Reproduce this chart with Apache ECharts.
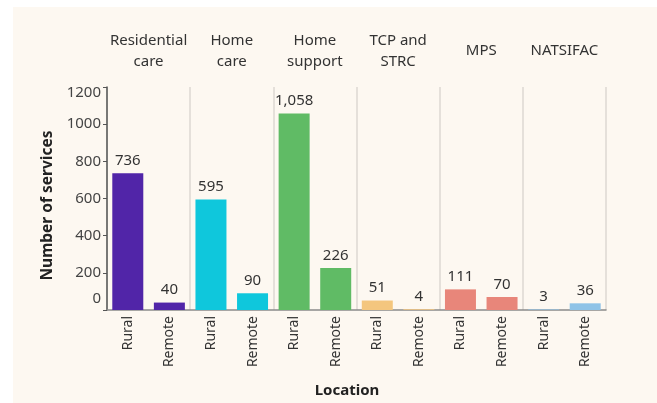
<!DOCTYPE html>
<html>
<head>
<meta charset="utf-8">
<script src="https://cdn.jsdelivr.net/npm/echarts@6/dist/echarts.min.js"></script>
<style>
  html, body { margin: 0; padding: 0; background: #ffffff; }
  #chart { position: absolute; left: 13px; top: 7px; width: 644px; height: 396px; background: #fdf8f1; }
</style>
</head>
<body>
<div id="chart"></div>
<script>
// service types across the top, two locations under each
var groups = ['Residential\ncare', 'Home\ncare', 'Home\nsupport', 'TCP and\nSTRC', 'MPS', 'NATSIFAC'];
var locations = ['Rural', 'Remote'];
var groupColors = ['#5125a8', '#0fc7dc', '#60bb65', '#f4c67e', '#e8867a', '#8fc3e7'];
var services = [736, 40, 595, 90, 1058, 226, 51, 4, 111, 70, 3, 36];
var yTicks = [0, 200, 400, 600, 800, 1000, 1200];

var font = 'Noto Sans';

// one category per group/location pair, name after '|' is what shows
var cats = [];
groups.forEach(function (g, gi) {
  locations.forEach(function (loc) {
    cats.push(gi + '|' + loc);
  });
});

var barData = services.map(function (v, i) {
  return {
    value: v,
    itemStyle: { color: groupColors[Math.floor(i / locations.length)] }
  };
});

var chart = echarts.init(document.getElementById('chart'));

chart.setOption({
  animation: false,
  textStyle: { fontFamily: font },
  grid: { left: 94, right: 51, top: 80, bottom: 91, containLabel: false },
  xAxis: [
    {
      type: 'category',
      data: cats,
      position: 'bottom',
      axisLine: { show: true, lineStyle: { color: '#8a8a8a', width: 1.5 } },
      axisTick: { show: false },
      axisLabel: {
        interval: 0,
        rotate: 90,
        margin: 6,
        fontSize: 14,
        color: '#333',
        fontFamily: font,
        formatter: function (v) { return v.split('|')[1]; }
      },
      name: 'Location',
      nameLocation: 'middle',
      nameGap: 73,
      nameTextStyle: { fontSize: 15, fontWeight: 'bold', color: '#222', fontFamily: font, padding: [0, 19, 0, 0] }
    },
    {
      type: 'category',
      data: groups,
      position: 'top',
      axisLine: { show: false },
      axisTick: { show: false },
      splitLine: { show: true, interval: 0, lineStyle: { color: '#dcd8d2', width: 1.5 } },
      axisLabel: {
        interval: 0,
        margin: 36,
        verticalAlign: 'middle',
        fontSize: 15,
        lineHeight: 21,
        color: '#333',
        fontFamily: font
      }
    }
  ],
  yAxis: {
    type: 'value',
    min: yTicks[0],
    max: yTicks[yTicks.length - 1],
    interval: 200,
    axisLine: { show: true, lineStyle: { color: '#555', width: 1.5 } },
    axisTick: { show: true, length: 4, lineStyle: { color: '#555' } },
    splitLine: { show: false },
    axisLabel: {
      margin: 6,
      fontSize: 15,
      color: '#444',
      fontFamily: font,
      formatter: function (v) {
        if (v === yTicks[0]) return '{lo|' + v + '}';
        if (v === yTicks[yTicks.length - 1]) return '{hi|' + v + '}';
        return String(v);
      },
      rich: {
        lo: { fontSize: 15, color: '#444', fontFamily: font, padding: [0, 0, 22, 0] },
        hi: { fontSize: 15, color: '#444', fontFamily: font, padding: [12, 0, 0, 0] }
      }
    },
    name: 'Number of services',
    nameLocation: 'middle',
    nameGap: 51,
    nameTextStyle: { fontSize: 15.5, fontWeight: 'bold', color: '#222', fontFamily: font, padding: [0, 14, 0, 0] }
  },
  series: [
    {
      type: 'bar',
      xAxisIndex: 0,
      data: barData,
      barWidth: 31,
      label: {
        show: true,
        position: 'top',
        distance: 5,
        fontSize: 15,
        color: '#333',
        fontFamily: font,
        formatter: function (p) { return p.value.toLocaleString('en-US'); }
      }
    }
  ]
});
</script>
</body>
</html>
